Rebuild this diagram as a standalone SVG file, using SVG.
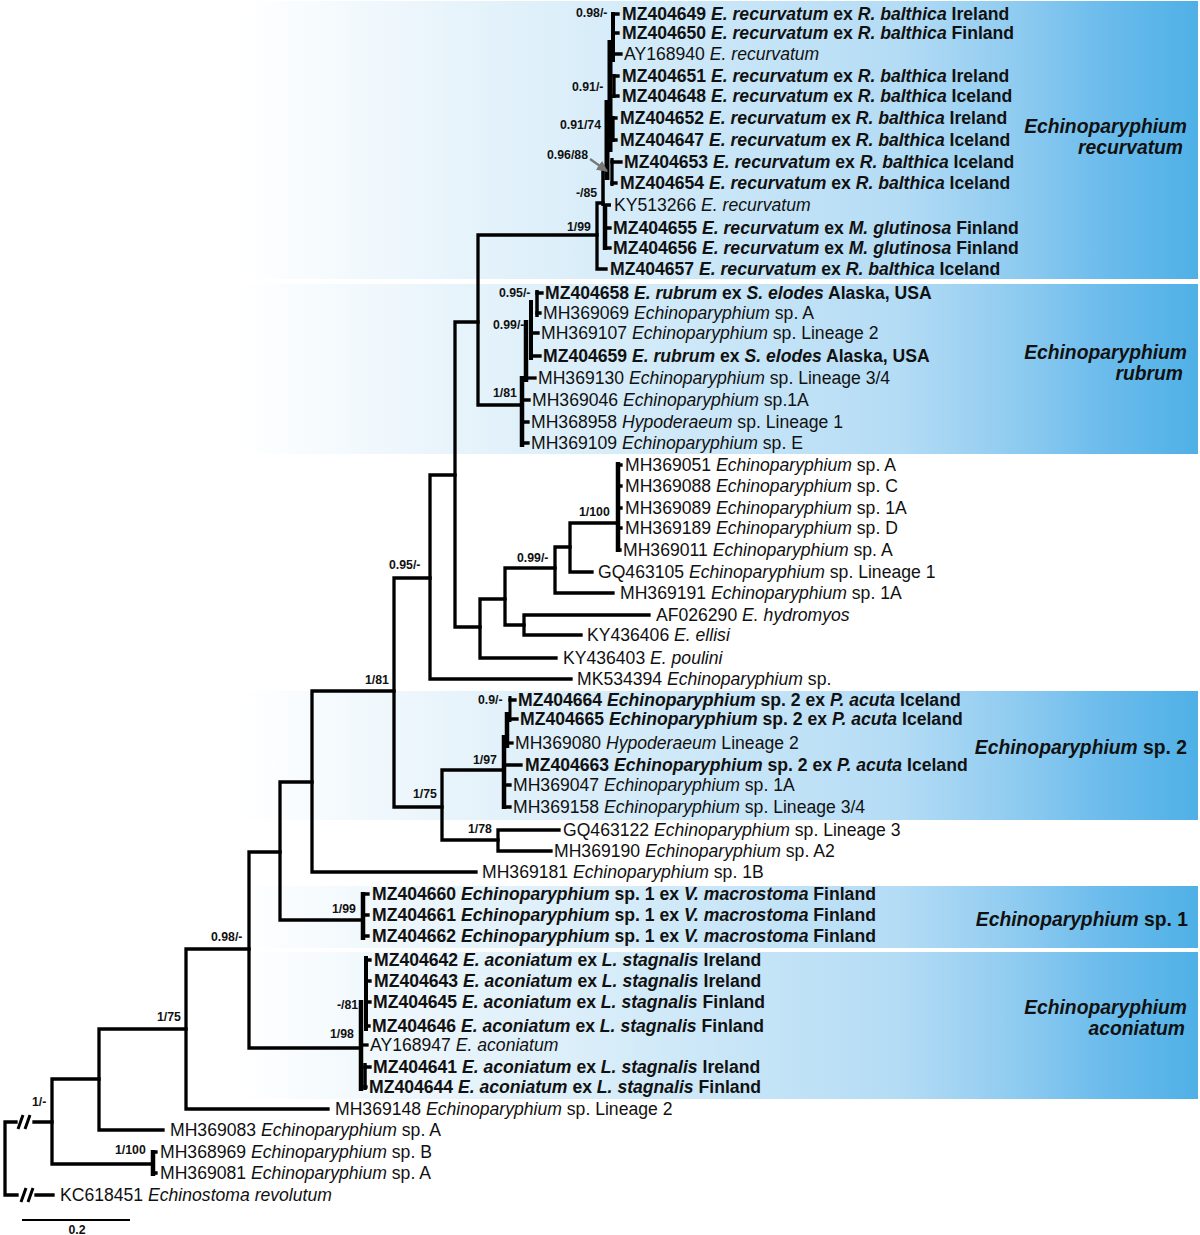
<svg xmlns="http://www.w3.org/2000/svg" width="1200" height="1235" viewBox="0 0 1200 1235">
<defs>
<linearGradient id="band" gradientUnits="userSpaceOnUse" x1="0" y1="0" x2="1198" y2="0">
<stop offset="0" stop-color="#ffffff"/>
<stop offset="0.2" stop-color="#ffffff"/>
<stop offset="0.375" stop-color="#e8f4fb"/>
<stop offset="0.5" stop-color="#d8edf9"/>
<stop offset="0.75" stop-color="#b4dcf5"/>
<stop offset="0.85" stop-color="#8ecbf0"/>
<stop offset="0.92" stop-color="#6cbcec"/>
<stop offset="1" stop-color="#4fb0e6"/>
</linearGradient>
<marker id="arr" viewBox="0 0 10 10" refX="9" refY="5" markerWidth="5" markerHeight="5" orient="auto" markerUnits="strokeWidth">
<path d="M0,0 L10,5 L0,10 z" fill="#777"/>
</marker>
<style>
.br{stroke:#000;stroke-width:3.3;fill:none;stroke-linecap:square}
.tk{stroke:#000;stroke-width:4.5;fill:none;stroke-linecap:butt}
.t{font-family:"Liberation Sans",Arial,sans-serif;font-size:17.6px;fill:#111}
.bd{font-weight:bold}
.i{font-style:italic}
.s{font-family:"Liberation Sans",Arial,sans-serif;font-size:12.3px;font-weight:bold;fill:#111}
.c{font-family:"Liberation Sans",Arial,sans-serif;font-size:19.3px;font-weight:bold;fill:#111;text-anchor:end}
.band{fill:url(#band)}
</style>
</defs>
<rect width="1200" height="1235" fill="#ffffff"/>
<g id="bands">
<rect class="band" x="0" y="1" width="1198" height="278"/>
<rect class="band" x="0" y="284" width="1198" height="170"/>
<rect class="band" x="0" y="691" width="1198" height="129"/>
<rect class="band" x="0" y="886" width="1198" height="62"/>
<rect class="band" x="0" y="952" width="1198" height="147"/>
</g>
<g id="connectors">
<path class="br" d="M5,1122 V1195 M5,1122 H16 M34,1122 H52 M5,1195 H17 M36,1195 H53"/>
<path stroke="#000" stroke-width="3" fill="none" d="M18,1129 L23,1115 M25,1129 L30,1115 M21,1202 L26,1188 M28,1202 L33,1188"/>
<path class="br" d="M52,1079 V1164 M52,1079 H99 M52,1164 H153"/>
<path class="tk" d="M153,1150 V1176"/>
<path class="br" d="M153,1152 H156 M153,1173 H156"/>
<path class="br" d="M99,1029 V1130 M99,1029 H186 M99,1130 H163"/>
<path class="br" d="M186,949 V1109 M186,949 H249 M186,1109 H328"/>
<path class="br" d="M249,852 V1048 M249,852 H280 M249,1048 H360"/>
<path class="br" d="M280,782 V920 M280,782 H312 M280,920 H363"/>
<path class="tk" d="M363,892 V940"/>
<path class="br" d="M363,894 H368 M363,915 H368 M363,936 H368"/>
<path class="br" d="M312,691 V872 M312,691 H394 M312,872 H476"/>
<path class="br" d="M394,578 V807 M394,578 H430 M394,807 H442"/>
<path class="br" d="M442,770 V840 M442,770 H504 M442,840 H498"/>
<path class="br" d="M498,830 V851 M498,830 H559 M498,851 H551"/>
<path class="br" d="M430,475 V679 M430,475 H455 M430,679 H571"/>
<path class="br" d="M455,322 V627 M455,322 H478 M455,627 H480"/>
<path class="br" d="M478,235 V405 M478,235 H597 M478,405 H522"/>
<path class="br" d="M480,599 V658 M480,599 H505 M480,658 H556"/>
<path class="br" d="M505,568 V625 M505,568 H555 M505,625 H524"/>
<path class="br" d="M524,615 V635 M524,615 H649 M524,635 H581"/>
<path class="br" d="M555,547 V593 M555,547 H570 M555,593 H613"/>
<path class="br" d="M570,523 V572 M570,523 H617 M570,572 H592"/>
<path class="tk" d="M618,462 V552"/>
<path class="br" d="M618,465 H621 M618,486 H621 M618,508 H621 M618,528 H621 M618,550 H620"/>
<!-- recurvatum clade -->
<path class="br" d="M597,203 V269 M597,269 H606 M597,203 H603"/>
<path stroke="#000" stroke-width="3.5" fill="none" d="M603,165 V206 M603,205 H611"/>
<path class="tk" d="M605,205 V250"/>
<path class="br" d="M605,228 H610 M605,248 H610"/>
<path stroke="#000" stroke-width="5" fill="none" d="M607,100 V180 M610,40 V152"/>
<path stroke="#000" stroke-width="4" fill="none" d="M613,12 V62"/>
<path stroke="#000" stroke-width="3.3" fill="none" d="M614,74 V98 M613,116 V142 M612,158 V186"/>
<path class="br" d="M613,14 H618 M613,33 H618 M613,54 H621 M614,76 H618 M614,96 H618 M613,118 H616 M613,140 H616 M612,162 H621 M612,183 H616"/>
<!-- rubrum clade -->
<path class="tk" d="M522,376 V447"/>
<path class="br" d="M522,400 H529 M522,422 H528 M522,443 H528"/>
<path class="tk" d="M526,320 V382"/>
<path class="br" d="M526,378 H535"/>
<path stroke="#000" stroke-width="4" fill="none" d="M531,300 V360"/>
<path class="br" d="M531,333 H538 M531,356 H540"/>
<path stroke="#000" stroke-width="3.5" fill="none" d="M537,290 V317"/>
<path class="br" d="M537,293 H542 M537,313 H540"/>
<!-- sp. 2 clade -->
<path stroke="#000" stroke-width="3" fill="none" d="M510,696 V722"/>
<path class="br" d="M510,700 H515 M510,719 H517"/>
<path class="tk" d="M507,712 V748"/>
<path class="br" d="M507,743 H512"/>
<path class="tk" d="M504,735 V809"/>
<path class="br" d="M504,765 H521 M504,785 H510 M504,807 H510"/>
<!-- aconiatum clade -->
<path stroke="#000" stroke-width="4" fill="none" d="M366,956 V1031"/>
<path class="br" d="M366,960 H370 M366,981 H370 M366,1002 H370 M366,1026 H369"/>
<path class="tk" d="M361,1000 V1091"/>
<path class="br" d="M361,1045 H367"/>
<path stroke="#000" stroke-width="3.5" fill="none" d="M365,1063 V1090"/>
<path class="br" d="M365,1067 H370 M365,1087 H366"/>
<line x1="590" y1="159" x2="607" y2="171" stroke="#777" stroke-width="2.2" marker-end="url(#arr)"/>
</g>
<g id="node-supports">
<text class="s" x="576" y="17.3">0.98/-</text>
<text class="s" x="572" y="91.3">0.91/-</text>
<text class="s" x="560" y="129.3">0.91/74</text>
<text class="s" x="547" y="159.3">0.96/88</text>
<text class="s" x="576" y="197.3">-/85</text>
<text class="s" x="567" y="231.3">1/99</text>
<text class="s" x="499" y="297.3">0.95/-</text>
<text class="s" x="493" y="329.3">0.99/-</text>
<text class="s" x="493" y="397.3">1/81</text>
<text class="s" x="579" y="516.3">1/100</text>
<text class="s" x="517" y="562.3">0.99/-</text>
<text class="s" x="389" y="569.3">0.95/-</text>
<text class="s" x="365" y="684.3">1/81</text>
<text class="s" x="478" y="704.3">0.9/-</text>
<text class="s" x="473" y="764.3">1/97</text>
<text class="s" x="413" y="798.3">1/75</text>
<text class="s" x="468" y="833.3">1/78</text>
<text class="s" x="332" y="913.3">1/99</text>
<text class="s" x="211" y="941.3">0.98/-</text>
<text class="s" x="337" y="1009.3">-/81</text>
<text class="s" x="330" y="1038.3">1/98</text>
<text class="s" x="157" y="1021.3">1/75</text>
<text class="s" x="32" y="1106.3">1/-</text>
<text class="s" x="115" y="1154.3">1/100</text>
</g>
<g id="clade-recurvatum">
<g id="MZ404649"><text class="t bd" x="622" y="20.3">MZ404649 <tspan class="i">E. recurvatum</tspan> ex <tspan class="i">R. balthica</tspan> Ireland</text></g>
<g id="MZ404650"><text class="t bd" x="622" y="39.3">MZ404650 <tspan class="i">E. recurvatum</tspan> ex <tspan class="i">R. balthica</tspan> Finland</text></g>
<g id="AY168940"><text class="t" x="624" y="60.3">AY168940 <tspan class="i">E. recurvatum</tspan></text></g>
<g id="MZ404651"><text class="t bd" x="622" y="82.3">MZ404651 <tspan class="i">E. recurvatum</tspan> ex <tspan class="i">R. balthica</tspan> Ireland</text></g>
<g id="MZ404648"><text class="t bd" x="622" y="102.3">MZ404648 <tspan class="i">E. recurvatum</tspan> ex <tspan class="i">R. balthica</tspan> Iceland</text></g>
<g id="MZ404652"><text class="t bd" x="620" y="124.3">MZ404652 <tspan class="i">E. recurvatum</tspan> ex <tspan class="i">R. balthica</tspan> Ireland</text></g>
<g id="MZ404647"><text class="t bd" x="620" y="146.3">MZ404647 <tspan class="i">E. recurvatum</tspan> ex <tspan class="i">R. balthica</tspan> Iceland</text></g>
<g id="MZ404653"><text class="t bd" x="624" y="168.3">MZ404653 <tspan class="i">E. recurvatum</tspan> ex <tspan class="i">R. balthica</tspan> Iceland</text></g>
<g id="MZ404654"><text class="t bd" x="620" y="189.3">MZ404654 <tspan class="i">E. recurvatum</tspan> ex <tspan class="i">R. balthica</tspan> Iceland</text></g>
<g id="KY513266"><text class="t" x="614" y="211.3">KY513266 <tspan class="i">E. recurvatum</tspan></text></g>
<g id="MZ404655"><text class="t bd" x="613" y="234.3">MZ404655 <tspan class="i">E. recurvatum</tspan> ex <tspan class="i">M. glutinosa</tspan> Finland</text></g>
<g id="MZ404656"><text class="t bd" x="613" y="254.3">MZ404656 <tspan class="i">E. recurvatum</tspan> ex <tspan class="i">M. glutinosa</tspan> Finland</text></g>
<g id="MZ404657"><text class="t bd" x="610" y="275.3">MZ404657 <tspan class="i">E. recurvatum</tspan> ex <tspan class="i">R. balthica</tspan> Iceland</text></g>
<g id="label-recurvatum"><text class="c i" x="1187" y="132.9">Echinoparyphium</text><text class="c i" x="1183" y="153.9">recurvatum</text></g>
</g>
<g id="clade-rubrum">
<g id="MZ404658"><text class="t bd" x="545" y="299.3">MZ404658 <tspan class="i">E. rubrum</tspan> ex <tspan class="i">S. elodes</tspan> Alaska, USA</text></g>
<g id="MH369069"><text class="t" x="543" y="319.3">MH369069 <tspan class="i">Echinoparyphium</tspan> sp. A</text></g>
<g id="MH369107"><text class="t" x="541" y="339.3">MH369107 <tspan class="i">Echinoparyphium</tspan> sp. Lineage 2</text></g>
<g id="MZ404659"><text class="t bd" x="543" y="362.3">MZ404659 <tspan class="i">E. rubrum</tspan> ex <tspan class="i">S. elodes</tspan> Alaska, USA</text></g>
<g id="MH369130"><text class="t" x="538" y="384.3">MH369130 <tspan class="i">Echinoparyphium</tspan> sp. Lineage 3/4</text></g>
<g id="MH369046"><text class="t" x="532" y="406.3">MH369046 <tspan class="i">Echinoparyphium</tspan> sp.1A</text></g>
<g id="MH368958"><text class="t" x="531" y="428.3">MH368958 <tspan class="i">Hypoderaeum</tspan> sp. Lineage 1</text></g>
<g id="MH369109"><text class="t" x="531" y="449.3">MH369109 <tspan class="i">Echinoparyphium</tspan> sp. E</text></g>
<g id="label-rubrum"><text class="c i" x="1187" y="358.9">Echinoparyphium</text><text class="c i" x="1183" y="379.9">rubrum</text></g>
</g>
<g id="clade-middle">
<g id="MH369051"><text class="t" x="625" y="471.3">MH369051 <tspan class="i">Echinoparyphium</tspan> sp. A</text></g>
<g id="MH369088"><text class="t" x="625" y="492.3">MH369088 <tspan class="i">Echinoparyphium</tspan> sp. C</text></g>
<g id="MH369089"><text class="t" x="625" y="514.3">MH369089 <tspan class="i">Echinoparyphium</tspan> sp. 1A</text></g>
<g id="MH369189"><text class="t" x="625" y="534.3">MH369189 <tspan class="i">Echinoparyphium</tspan> sp. D</text></g>
<g id="MH369011"><text class="t" x="623" y="556.3">MH369011 <tspan class="i">Echinoparyphium</tspan> sp. A</text></g>
<g id="GQ463105"><text class="t" x="598" y="578.3">GQ463105 <tspan class="i">Echinoparyphium</tspan> sp. Lineage 1</text></g>
<g id="MH369191"><text class="t" x="620" y="599.3">MH369191 <tspan class="i">Echinoparyphium</tspan> sp. 1A</text></g>
<g id="AF026290"><text class="t" x="656" y="621.3">AF026290 <tspan class="i">E. hydromyos</tspan></text></g>
<g id="KY436406"><text class="t" x="587" y="641.3">KY436406 <tspan class="i">E. ellisi</tspan></text></g>
<g id="KY436403"><text class="t" x="563" y="664.3">KY436403 <tspan class="i">E. poulini</tspan></text></g>
<g id="MK534394"><text class="t" x="577" y="685.3">MK534394 <tspan class="i">Echinoparyphium</tspan> sp.</text></g>
</g>
<g id="clade-sp2">
<g id="MZ404664"><text class="t bd" x="518" y="706.3">MZ404664 <tspan class="i">Echinoparyphium</tspan> sp. 2 ex <tspan class="i">P. acuta</tspan> Iceland</text></g>
<g id="MZ404665"><text class="t bd" x="520" y="725.3">MZ404665 <tspan class="i">Echinoparyphium</tspan> sp. 2 ex <tspan class="i">P. acuta</tspan> Iceland</text></g>
<g id="MH369080"><text class="t" x="515" y="749.3">MH369080 <tspan class="i">Hypoderaeum</tspan> Lineage 2</text></g>
<g id="MZ404663"><text class="t bd" x="525" y="771.3">MZ404663 <tspan class="i">Echinoparyphium</tspan> sp. 2 ex <tspan class="i">P. acuta</tspan> Iceland</text></g>
<g id="MH369047"><text class="t" x="513" y="791.3">MH369047 <tspan class="i">Echinoparyphium</tspan> sp. 1A</text></g>
<g id="MH369158"><text class="t" x="513" y="813.3">MH369158 <tspan class="i">Echinoparyphium</tspan> sp. Lineage 3/4</text></g>
<g id="label-sp2"><text class="c" x="1187" y="753.9"><tspan class="i">Echinoparyphium</tspan> sp. 2</text></g>
</g>
<g id="clade-other">
<g id="GQ463122"><text class="t" x="563" y="836.3">GQ463122 <tspan class="i">Echinoparyphium</tspan> sp. Lineage 3</text></g>
<g id="MH369190"><text class="t" x="554" y="857.3">MH369190 <tspan class="i">Echinoparyphium</tspan> sp. A2</text></g>
<g id="MH369181"><text class="t" x="482" y="878.3">MH369181 <tspan class="i">Echinoparyphium</tspan> sp. 1B</text></g>
</g>
<g id="clade-sp1">
<g id="MZ404660"><text class="t bd" x="372" y="900.3">MZ404660 <tspan class="i">Echinoparyphium</tspan> sp. 1 ex <tspan class="i">V. macrostoma</tspan> Finland</text></g>
<g id="MZ404661"><text class="t bd" x="372" y="921.3">MZ404661 <tspan class="i">Echinoparyphium</tspan> sp. 1 ex <tspan class="i">V. macrostoma</tspan> Finland</text></g>
<g id="MZ404662"><text class="t bd" x="372" y="942.3">MZ404662 <tspan class="i">Echinoparyphium</tspan> sp. 1 ex <tspan class="i">V. macrostoma</tspan> Finland</text></g>
<g id="label-sp1"><text class="c" x="1188" y="925.9"><tspan class="i">Echinoparyphium</tspan> sp. 1</text></g>
</g>
<g id="clade-aconiatum">
<g id="MZ404642"><text class="t bd" x="374" y="966.3">MZ404642 <tspan class="i">E. aconiatum</tspan> ex <tspan class="i">L. stagnalis</tspan> Ireland</text></g>
<g id="MZ404643"><text class="t bd" x="374" y="987.3">MZ404643 <tspan class="i">E. aconiatum</tspan> ex <tspan class="i">L. stagnalis</tspan> Ireland</text></g>
<g id="MZ404645"><text class="t bd" x="373" y="1008.3">MZ404645 <tspan class="i">E. aconiatum</tspan> ex <tspan class="i">L. stagnalis</tspan> Finland</text></g>
<g id="MZ404646"><text class="t bd" x="372" y="1032.3">MZ404646 <tspan class="i">E. aconiatum</tspan> ex <tspan class="i">L. stagnalis</tspan> Finland</text></g>
<g id="AY168947"><text class="t" x="370" y="1051.3">AY168947 <tspan class="i">E. aconiatum</tspan></text></g>
<g id="MZ404641"><text class="t bd" x="373" y="1073.3">MZ404641 <tspan class="i">E. aconiatum</tspan> ex <tspan class="i">L. stagnalis</tspan> Ireland</text></g>
<g id="MZ404644"><text class="t bd" x="369" y="1093.3">MZ404644 <tspan class="i">E. aconiatum</tspan> ex <tspan class="i">L. stagnalis</tspan> Finland</text></g>
<g id="label-aconiatum"><text class="c i" x="1187" y="1013.9">Echinoparyphium</text><text class="c i" x="1185" y="1034.9">aconiatum</text></g>
</g>
<g id="clade-basal">
<g id="MH369148"><text class="t" x="335" y="1115.3">MH369148 <tspan class="i">Echinoparyphium</tspan> sp. Lineage 2</text></g>
<g id="MH369083"><text class="t" x="170" y="1136.3">MH369083 <tspan class="i">Echinoparyphium</tspan> sp. A</text></g>
<g id="MH368969"><text class="t" x="160" y="1158.3">MH368969 <tspan class="i">Echinoparyphium</tspan> sp. B</text></g>
<g id="MH369081"><text class="t" x="160" y="1179.3">MH369081 <tspan class="i">Echinoparyphium</tspan> sp. A</text></g>
<g id="KC618451"><text class="t" x="60" y="1201.3">KC618451 <tspan class="i">Echinostoma revolutum</tspan></text></g>
</g>
<g id="scale-bar">
<path stroke="#000" stroke-width="2" d="M22,1220 H130"/>
<text class="s" x="77" y="1234.3" text-anchor="middle">0.2</text>
</g>
</svg>
